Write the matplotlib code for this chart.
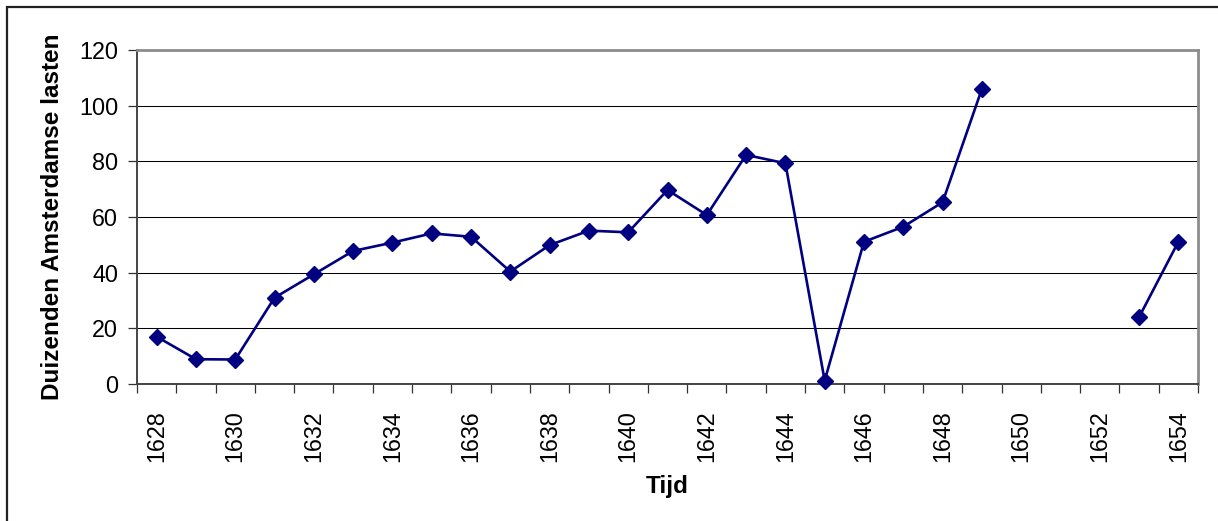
import numpy as np
import matplotlib
matplotlib.use("Agg")
import matplotlib.pyplot as plt
from matplotlib.patches import Rectangle
from matplotlib.ticker import FixedLocator

plt.rcParams["font.family"] = ["Liberation Sans", "DejaVu Sans"]

# Yearly totals (thousands of Amsterdam lasts); no figures for 1650-1652
years = list(range(1628, 1655))
values = [17.0, 8.9, 8.8, 31.0, 39.4, 47.8, 50.8, 54.1, 52.9, 40.4,
          49.9, 55.1, 54.5, 69.7, 60.7, 82.3, 79.3, 1.2, 51.1, 56.5,
          65.3, 106.0, np.nan, np.nan, np.nan, 24.0, 51.1]
y_ticks = [0, 20, 40, 60, 80, 100, 120]
x_label_years = list(range(1628, 1655, 2))

W, H = 1218, 521
fig = plt.figure(figsize=(W / 100, H / 100), dpi=100)
fig.patch.set_facecolor("white")

# outer chart frame
fig.patches.append(Rectangle((7 / W, -0.1), 1.2, 1 - 7 / H + 0.1,
                             transform=fig.transFigure, fill=False,
                             edgecolor="#222222", linewidth=1.6, zorder=0))

ax = fig.add_axes([137 / W, (H - 384) / H, (1198 - 137) / W, (384 - 50) / H])

x = np.arange(len(years))
ax.plot(x, values, color="#000080", linewidth=1.9, marker="D",
        markersize=8.2, markerfacecolor="#000080",
        markeredgecolor="#000080", zorder=3, clip_on=False)

ax.set_xlim(-0.5, len(years) - 0.5)
ax.set_ylim(0, 120)

# horizontal gridlines
ax.set_yticks(y_ticks)
ax.yaxis.grid(True, color="#000000", linewidth=0.75)
ax.set_axisbelow(True)
ax.tick_params(axis="y", direction="out", length=6.5, width=0.9,
               color="#333333", pad=7, labelsize=16.8)

# category labels every second year, tick marks between categories
label_pos = [years.index(yr) for yr in x_label_years]
ax.xaxis.set_major_locator(FixedLocator(label_pos))
ax.set_xticklabels([str(yr) for yr in x_label_years], rotation=90)
ax.xaxis.set_minor_locator(FixedLocator(np.arange(-0.5, len(years), 1.0)))
ax.tick_params(axis="x", which="major", length=0, pad=19, labelsize=16.8)
ax.tick_params(axis="x", which="minor", direction="out", length=6.5,
               width=0.9, color="#333333")

for side in ("top", "right"):
    ax.spines[side].set_color("#8c8c8c")
    ax.spines[side].set_linewidth(2.0)
for side in ("left", "bottom"):
    ax.spines[side].set_color("#444444")
    ax.spines[side].set_linewidth(1.4)
ax.spines["top"].set_zorder(4)

ax.set_xlabel("Tijd", fontsize=17.5, fontweight="bold", labelpad=9)
ax.set_ylabel("Duizenden Amsterdamse lasten", fontsize=17.5,
              fontweight="bold", labelpad=11)

fig.savefig("out.png", dpi=100, facecolor="white")
